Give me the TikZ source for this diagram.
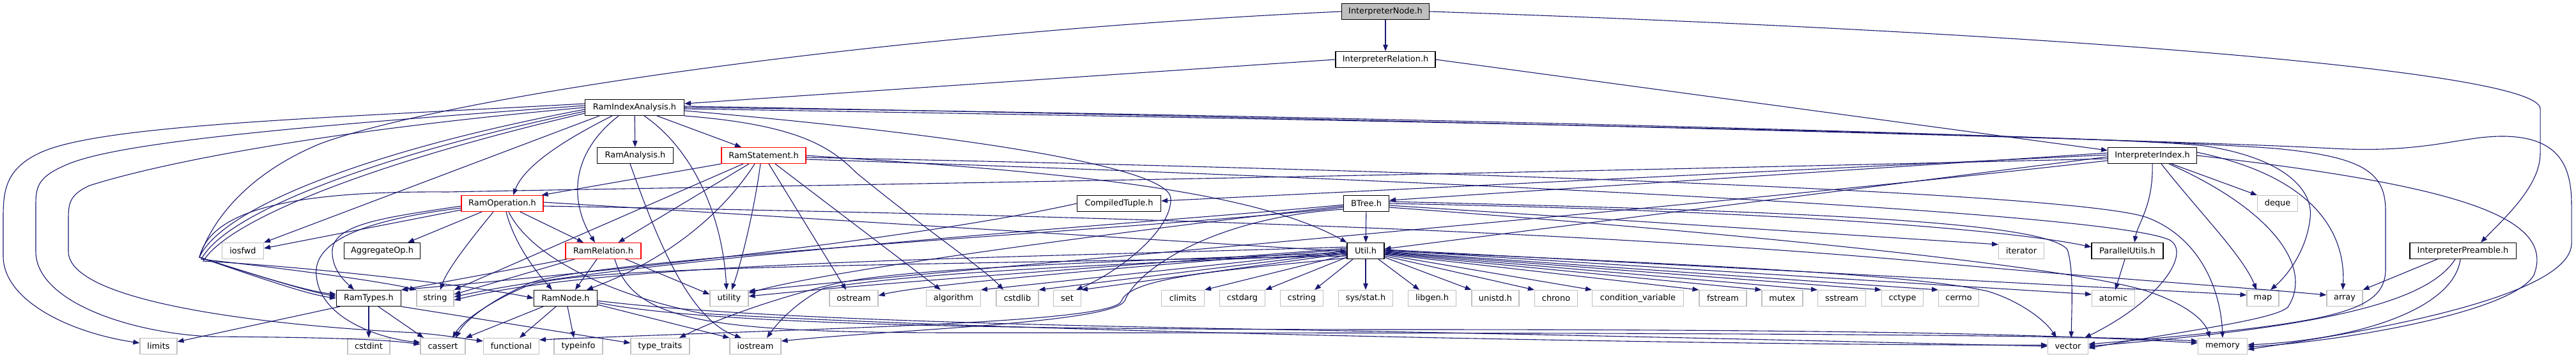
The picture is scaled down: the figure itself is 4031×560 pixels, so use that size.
\documentclass[tikz,border=0pt]{standalone}
\usepackage{fontspec}
\setmainfont{DejaVu Sans}
\usetikzlibrary{arrows.meta}
\definecolor{edgeblue}{HTML}{191970}
\definecolor{sysgray}{HTML}{BFBFBF}
\tikzset{
  hdr/.style={draw=black,fill=white,line width=1.1pt,minimum height=25pt,inner sep=0pt,
    font=\fontsize{12.9}{15}\selectfont},
  syshdr/.style={hdr,draw=sysgray},   % system header
  cuthdr/.style={hdr,draw=red},       % graph truncated below
  roothdr/.style={hdr,fill=sysgray},  % the documented file
  inc/.style={draw=edgeblue,line width=1.1pt,-{Triangle[length=10pt,width=7.5pt]}},
}
\begin{document}
\begin{tikzpicture}[x=1pt,y=-1pt]
  \useasboundingbox (0,0) rectangle (4031,560);
  % project headers
  \node[roothdr,minimum width=137pt] (inode) at (2168,18) {InterpreterNode.h};
  \node[hdr,minimum width=156pt] (irel) at (2168,93) {InterpreterRelation.h};
  \node[hdr,minimum width=155pt] (ria) at (993,168) {RamIndexAnalysis.h};
  \node[hdr,minimum width=119pt] (ranal) at (994,243) {RamAnalysis.h};
  \node[cuthdr,minimum width=132pt] (rstmt) at (1195,243) {RamStatement.h};
  \node[hdr,minimum width=139pt] (iidx) at (3368,243) {InterpreterIndex.h};
  \node[cuthdr,minimum width=128pt] (rop) at (786,318) {RamOperation.h};
  \node[hdr,minimum width=131pt] (ctup) at (1751,318) {CompiledTuple.h};
  \node[hdr,minimum width=71pt] (btree) at (2138,318) {BTree.h};
  \node[syshdr,minimum width=63pt] (deque) at (3564,318) {deque};
  \node[syshdr,minimum width=65pt] (iosfwd) at (380,392) {iosfwd};
  \node[hdr,minimum width=119pt] (aggop) at (598,392) {AggregateOp.h};
  \node[cuthdr,minimum width=118pt] (rrel) at (944,392) {RamRelation.h};
  \node[hdr,minimum width=58pt] (util) at (2137,392) {Util.h};
  \node[syshdr,minimum width=71pt] (iterator) at (3163,392) {iterator};
  \node[hdr,minimum width=112pt] (putils) at (3329,392) {ParallelUtils.h};
  \node[hdr,minimum width=166pt] (ipre) at (3854,392) {InterpreterPreamble.h};
  \node[hdr,minimum width=101pt] (rtypes) at (577,466) {RamTypes.h};
  \node[hdr,minimum width=99pt] (rnode) at (885,466) {RamNode.h};
  % system headers
  \foreach \nm/\x/\w/\txt in {string/681/58/string, utility/1141/60/utility, ostream/1336/76/ostream,
      algorithm/1492/85/algorithm, cstdlib/1592/66/cstdlib, set/1670/43/set, climits/1851/67/climits,
      cstdarg/1944/71/cstdarg, cstring/2037/67/cstring, libgen/2241/75/libgen.h, unistd/2340/74/unistd.h,
      chrono/2435/67/chrono, condvar/2563/143/condition\_variable, fstream/2696/74/fstream,
      mutex/2789/64/mutex, sstream/2882/75/sstream, cctype/2977/65/cctype, cerrno/3065/63/cerrno,
      atomic/3307/67/atomic, map/3541/50/map, array/3669/56/array}
    \node[syshdr,minimum width=\w pt] (\nm) at (\x,466) {\txt};
  \node[syshdr,minimum width=85pt] (sysstat) at (2137,466) {sys/stat.h};
  \foreach \nm/\x/\w/\txt in {limits/248/58/limits, cstdint/577/66/cstdint, cassert/693/70/cassert,
      functional/800/87/functional, typeinfo/905/76/typeinfo, typetraits/1033/92/type\_traits,
      iostream/1182/80/iostream, vector/3236/63/vector, memory/3478/77/memory}
    \node[syshdr,minimum width=\w pt] (\nm) at (\x,541) {\txt};

  % InterpreterNode.h
  \draw[inc] (inode) -- (irel);
  \draw[inc] (inode.east) .. controls (3200,50) and (3975,110) .. (3975,170) -- (3975,240)
    .. controls (3975,290) and (3920,340) .. ([xshift=28]ipre.north);
  \draw[inc] (inode.west) .. controls (1400,50) and (700,150) .. (500,225) .. controls (380,275) and (330,350) .. (312,402)
    .. controls (400,430) and (480,455) .. ([yshift=6]rtypes.west);
  % InterpreterRelation.h
  \draw[inc] (irel.west) -- ([yshift=6]ria.east);
  \draw[inc] (irel.east) -- ([yshift=8]iidx.west);
  % RamIndexAnalysis.h
  \draw[inc] (ria) -- (ranal);
  \draw[inc] ([xshift=35]ria.south) -- ([xshift=-35]rstmt.north);
  \draw[inc] ([xshift=-35]ria.south) .. controls (880,220) and (820,260) .. ([xshift=17]rop.north);
  \draw[inc] ([xshift=-25]ria.south) .. controls (880,250) and (900,330) .. ([xshift=-13]rrel.north);
  \draw[inc] ([xshift=15]ria.south) .. controls (1080,230) and (1130,330) .. ([xshift=-4]utility.north);
  \draw[inc] ([xshift=-55]ria.south) -- (iosfwd.north east);
  \draw[inc] (ria.south east) .. controls (1250,195) and (1300,230) .. (1340,270)
    .. controls (1450,360) and (1540,420) .. ([xshift=-22]cstdlib.north);
  \draw[inc] ([yshift=-5]ria.east) .. controls (1500,210) and (1830,260) .. (1832,310)
    .. controls (1834,360) and (1750,425) .. ([xshift=-8]set.north east);
  \draw[inc] ([yshift=-2]ria.east) .. controls (2000,185) and (3300,210) .. (3450,228) .. controls (3580,248) and (3620,300) .. (3615,340)
    .. controls (3610,390) and (3580,430) .. ([xshift=12]map.north);
  \draw[inc] (ria.east) .. controls (2000,178) and (3300,212) .. (3560,232) .. controls (3700,245) and (3733,270) .. (3733,330) -- (3733,420)
    .. controls (3733,490) and (3650,505) .. ([yshift=3]vector.east);
  \draw[inc] ([yshift=2]ria.east) .. controls (2000,182) and (3400,218) .. (3650,232) .. controls (3800,240) and (3850,212) .. (3920,213)
    .. controls (4005,215) and (4024,260) .. (4024,320) -- (4024,380) .. controls (4024,450) and (3800,505) .. ([yshift=-5]memory.east);
  \draw[inc] ([yshift=6]ria.west) .. controls (500,185) and (150,195) .. (60,240) .. controls (8,265) and (5,300) .. (5,340) -- (5,400)
    .. controls (5,470) and (110,520) .. ([yshift=5]limits.west);
  \draw[inc] ([yshift=3]ria.west) .. controls (500,195) and (200,220) .. (110,255) .. controls (60,275) and (56,290) .. (56,320) -- (56,393)
    .. controls (56,470) and (200,520) .. (330,526) .. controls (500,527) and (600,530) .. ([yshift=3]cassert.west);
  \draw[inc] (ria.west) .. controls (500,205) and (250,255) .. (140,290) .. controls (107,305) and (107,320) .. (107,345) -- (107,393)
    .. controls (107,470) and (400,508) .. (650,520) .. controls (700,524) and (730,530) .. ([yshift=8]functional.west);
  \draw[inc] ([yshift=-3]ria.west) .. controls (600,230) and (350,320) .. (312,402) .. controls (400,432) and (480,460) .. (rtypes.west);
  \draw[inc] ([yshift=-6]ria.west) .. controls (600,240) and (355,330) .. (315,405) .. controls (450,420) and (600,440) .. (string.north west);
  \draw[inc] ([yshift=-9]ria.west) .. controls (600,250) and (360,340) .. (318,408) .. controls (500,418) and (750,448) .. (rnode.west);
  % RamStatement.h
  \draw[inc] (rstmt.south west) -- ([xshift=-3]rop.north east);
  \draw[inc] ([xshift=-32]rstmt.south) -- (string.north east);
  \draw[inc] ([xshift=-23]rstmt.south) -- ([xshift=-36]rrel.north east);
  \draw[inc] ([xshift=-14]rstmt.south) .. controls (1140,320) and (1060,400) .. ([xshift=33]rnode.north);
  \draw[inc] ([xshift=-5]rstmt.south) .. controls (1180,330) and (1160,410) .. ([xshift=4]utility.north);
  \draw[inc] ([xshift=8]rstmt.south) -- ([xshift=-12]ostream.north);
  \draw[inc] ([xshift=18]rstmt.south) -- ([xshift=-20]algorithm.north);
  \draw[inc] (rstmt.east) .. controls (1600,265) and (1950,290) .. (util.north west);
  \draw[inc] ([yshift=-3]rstmt.east) .. controls (2200,265) and (3250,300) .. (3360,340)
    .. controls (3440,370) and (3475,450) .. (memory.north);
  \draw[inc] ([yshift=-6]rstmt.east) .. controls (2200,280) and (3300,330) .. (3395,375)
    .. controls (3430,395) and (3380,470) .. ([xshift=-6]vector.north east);
  % RamAnalysis.h
  \draw[inc] ([xshift=-8]ranal.south) .. controls (1030,380) and (1080,500) .. ([xshift=-22]iostream.north);
  % RamOperation.h
  \draw[inc] ([xshift=28]rop.south) -- ([xshift=-31]rrel.north);
  \draw[inc] ([xshift=6]rop.south) .. controls (805,380) and (835,420) .. ([xshift=-21]rnode.north);
  \draw[inc] ([xshift=-14]rop.south) .. controls (740,370) and (700,420) .. ([xshift=8]string.north);
  \draw[inc] ([xshift=-32]rop.south) -- ([xshift=40]aggop.north);
  \draw[inc] ([yshift=-4]rop.west) .. controls (600,340) and (525,350) .. (520,390)
    .. controls (518,420) and (540,440) .. ([xshift=-23]rtypes.north);
  \draw[inc] ([yshift=-7]rop.west) .. controls (560,345) and (490,380) .. (495,430)
    .. controls (500,500) and (600,530) .. ([yshift=6]cassert.west);
  \draw[inc] ([yshift=-10]rop.west) -- ([yshift=4]iosfwd.east);
  \draw[inc] ([yshift=2]rop.east) -- ([yshift=-1]util.west);
  \draw[inc] ([xshift=10]rop.south) .. controls (830,400) and (950,460) .. (1100,490)
    .. controls (1600,520) and (2800,541) .. ([yshift=2]vector.west);
  \draw[inc] ([yshift=-4]rop.east) .. controls (1600,335) and (2400,355) .. (3000,408)
    .. controls (3250,432) and (3500,448) .. ([yshift=5]array.west);
  % RamRelation.h
  \draw[inc] ([xshift=-10]rrel.south) -- ([xshift=15]rnode.north);
  \draw[inc] ([xshift=-45]rrel.south) -- ([yshift=6]string.east);
  \draw[inc] ([xshift=-57]rrel.south) -- (rtypes.north east);
  \draw[inc] ([xshift=35]rrel.south) -- ([yshift=6]utility.west);
  \draw[inc] ([xshift=18]rrel.south) .. controls (990,500) and (1100,520) .. (1500,520)
    .. controls (2200,520) and (3200,520) .. ([yshift=8]memory.west);
  % RamNode.h
  \draw[inc] ([xshift=-35]rnode.south) -- (cassert.north east);
  \draw[inc] ([xshift=-15]rnode.south) -- ([xshift=13]functional.north);
  \draw[inc] ([xshift=3]rnode.south) -- ([xshift=-7]typeinfo.north);
  \draw[inc] ([yshift=-10]rnode.east) -- (iostream.north west);
  \draw[inc] ([yshift=-4]rnode.east) .. controls (1100,490) and (1400,505) .. (2000,515)
    .. controls (2700,528) and (3050,538) .. (vector.west);
  \draw[inc] ([yshift=-7]rnode.east) .. controls (1100,505) and (1500,515) .. (2200,515)
    .. controls (2900,515) and (3200,522) .. ([yshift=5]memory.west);
  % RamTypes.h
  \draw[inc] (rtypes) -- (cstdint);
  \draw[inc] ([xshift=15]rtypes.south) -- ([xshift=-30]cassert.north);
  \draw[inc] ([xshift=-45]rtypes.south) -- ([yshift=7]limits.east);
  \draw[inc] (rtypes.south east) -- ([yshift=5]typetraits.west);
  % Util.h
  \draw[inc] ([yshift=6]util.west) .. controls (1500,405) and (950,410) .. ([yshift=-3]string.east);
  \draw[inc] ([yshift=4]util.west) .. controls (1700,420) and (1400,440) .. ([yshift=3]utility.east);
  \draw[inc] ([yshift=2]util.west) .. controls (1600,430) and (1420,450) .. ([yshift=4]ostream.east);
  \draw[inc] (util.west) -- (algorithm.north east);
  \draw[inc] ([yshift=-2]util.west) -- (cstdlib.north east);
  \draw[inc] ([yshift=-4]util.west) -- (set.north east);
  \draw[inc] ([yshift=-6]util.west) -- (climits.north east);
  \draw[inc] ([yshift=-10]util.west) -- (cstdarg.north east);
  \draw[inc] ([yshift=-3]util.west) .. controls (1700,410) and (1400,420) .. (1300,445)
    .. controls (1200,470) and (1120,500) .. ([xshift=30]typetraits.north);
  \draw[inc] ([yshift=-5]util.west) .. controls (1700,415) and (1450,425) .. (1290,450)
    .. controls (1250,470) and (1220,500) .. ([xshift=18]iostream.north);
  \draw[inc] ([yshift=-8]util.west) .. controls (1400,415) and (900,415) .. (822,448)
    .. controls (770,470) and (725,500) .. ([xshift=15]cassert.north);
  \draw[inc] ([yshift=-11]util.west) .. controls (1950,420) and (1770,430) .. (1755,470)
    .. controls (1745,505) and (1300,512) .. ([yshift=10]functional.east);
  \draw[inc] ([xshift=-20]util.south) -- ([xshift=20]cstring.north);
  \draw[inc] (util.south) -- (sysstat.north);
  \draw[inc] ([xshift=20]util.south) -- ([xshift=-20]libgen.north);
  \foreach \hd/\dy in {unistd/-10,chrono/-8,condvar/-6,fstream/-5,mutex/-4,sstream/-3,cctype/-2,cerrno/-1}
    \draw[inc] ([yshift=\dy]util.east) -- (\hd.north west);
  \draw[inc] ([yshift=1]util.east) -- ([yshift=6]atomic.west);
  \draw[inc] ([yshift=2]util.east) -- ([yshift=5]map.west);
  \draw[inc] (util.east) .. controls (2700,415) and (3000,430) .. (3110,455)
    .. controls (3160,470) and (3200,500) .. ([xshift=-18]vector.north);
  % BTree.h
  \draw[inc] (btree) -- (util);
  \draw[inc] ([yshift=-3]btree.east) -- ([yshift=10]iterator.west);
  \draw[inc] (btree.east) .. controls (2800,330) and (3150,360) .. ([yshift=6]putils.west);
  \draw[inc] ([yshift=3]btree.east) .. controls (2800,330) and (3200,345) .. (3235,390)
    .. controls (3245,420) and (3242,480) .. ([xshift=5]vector.north);
  \draw[inc] ([yshift=-6]btree.east) .. controls (2800,370) and (3250,420) .. (3360,455)
    .. controls (3420,475) and (3450,500) .. ([xshift=-20]memory.north);
  \draw[inc] ([yshift=-2]btree.west) .. controls (1850,345) and (1000,400) .. ([yshift=2]string.east);
  \draw[inc] ([yshift=-4]btree.west) .. controls (1850,350) and (1300,420) .. ([yshift=8]utility.east);
  \draw[inc] ([yshift=-6]btree.west) .. controls (1850,355) and (950,400) .. (830,442)
    .. controls (770,468) and (728,500) .. ([xshift=20]cassert.north);
  \draw[inc] ([yshift=-9]btree.west) .. controls (1900,340) and (1780,420) .. (1760,470)
    .. controls (1740,505) and (1400,515) .. ([yshift=8]iostream.east);
  % CompiledTuple.h
  \draw[inc] (ctup.west) .. controls (1450,370) and (1000,420) .. (rtypes.north east);
  % InterpreterIndex.h
  \draw[inc] ([yshift=4]iidx.west) -- ([yshift=5]btree.east);
  \draw[inc] ([yshift=1]iidx.west) -- ([yshift=4]ctup.east);
  \draw[inc] ([yshift=-2]iidx.west) -- ([yshift=3]util.east);
  \draw[inc] ([yshift=-5]iidx.west) .. controls (2000,280) and (1100,292) .. (700,300) .. controls (450,298) and (330,330) .. (312,402)
    .. controls (400,430) and (480,455) .. ([yshift=3]rtypes.west);
  \draw[inc] ([yshift=-8]iidx.west) .. controls (2600,330) and (1500,420) .. ([yshift=11]utility.east);
  \draw[inc] (iidx.south) .. controls (3370,320) and (3345,350) .. ([xshift=11]putils.north);
  \draw[inc] ([xshift=30]iidx.south) -- (deque.north west);
  \draw[inc] ([xshift=14]iidx.south) .. controls (3440,330) and (3510,400) .. ([xshift=-10]map.north);
  \draw[inc] ([xshift=26]iidx.south) .. controls (3560,330) and (3620,420) .. (3580,480)
    .. controls (3560,500) and (3400,520) .. ([yshift=-3]vector.east);
  \draw[inc] ([yshift=5]iidx.east) .. controls (3640,280) and (3670,380) .. ([xshift=-3]array.north);
  \draw[inc] (iidx.east) .. controls (3850,290) and (4000,340) .. (3965,430)
    .. controls (3930,490) and (3650,535) .. ([yshift=-1]memory.east);
  % InterpreterPreamble.h
  \draw[inc] ([xshift=-40]ipre.south) -- (array.north east);
  \draw[inc] ([xshift=-12]ipre.south) .. controls (3800,470) and (3650,510) .. (vector.east);
  \draw[inc] ([xshift=-4]ipre.south) .. controls (3840,480) and (3700,530) .. ([yshift=2]memory.east);
  % ParallelUtils.h
  \draw[inc] ([xshift=-4]putils.south) -- ([xshift=3]atomic.north);
\end{tikzpicture}
\end{document}
